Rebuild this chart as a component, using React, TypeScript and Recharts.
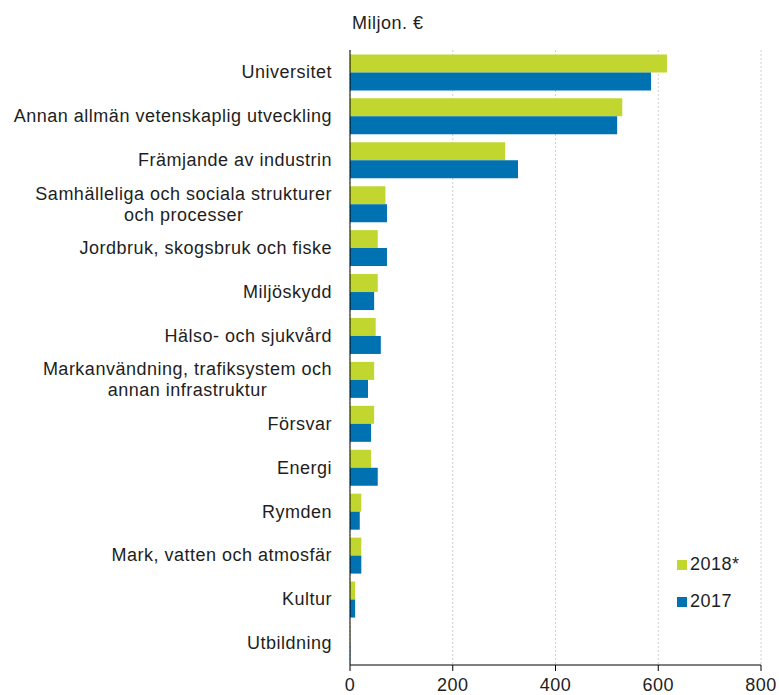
import React from 'react';
import { BarChart, Bar, XAxis, YAxis, CartesianGrid } from 'recharts';

// Values in million euro
const categories = [
  'Universitet',
  'Annan allmän vetenskaplig utveckling',
  'Främjande av industrin',
  'Samhälleliga och sociala strukturer\noch processer',
  'Jordbruk, skogsbruk och fiske',
  'Miljöskydd',
  'Hälso- och sjukvård',
  'Markanvändning, trafiksystem och\nannan infrastruktur',
  'Försvar',
  'Energi',
  'Rymden',
  'Mark, vatten och atmosfär',
  'Kultur',
  'Utbildning',
];
const values2018 = [617, 530, 302, 69, 54, 54, 50, 47, 47, 41, 22, 22, 10, 0.5];
const values2017 = [586, 520, 327, 72, 72, 47, 60, 35, 41, 54, 19, 22, 10, 0.5];
const xTicks = [0, 200, 400, 600, 800];

const GREEN = '#c1d72f';
const BLUE = '#0071b1';
const FONT = '"Liberation Sans", Arial, sans-serif';
const FONT_SIZE = 18;
const SPACING = 0.5;
const TEXT = '#1e1e1e';

const data = categories.map((name, i) => ({
  name,
  y2018: values2018[i],
  y2017: values2017[i],
}));

let ctx: any = null;
function measure(text: string): number {
  if (!ctx) ctx = document.createElement('canvas').getContext('2d');
  if (!ctx) return text.length * FONT_SIZE * 0.5;
  ctx.font = `${FONT_SIZE}px "Liberation Sans", Arial`;
  ctx.letterSpacing = `${SPACING}px`;
  return ctx.measureText(text).width;
}

function CategoryTick(props: any) {
  const { x, y, payload } = props;
  const lines: string[] = String(payload.value).split('\n');
  const right = x - 10;
  const lineH = 21;
  if (lines.length === 1) {
    return (
      <text x={right} y={y} dy="0.35em" textAnchor="end" fill={TEXT} fontSize={FONT_SIZE} fontFamily={FONT} letterSpacing={SPACING}>
        {lines[0]}
      </text>
    );
  }
  const w = Math.max(...lines.map(measure));
  const cx = right - w / 2;
  const startY = y - ((lines.length - 1) * lineH) / 2;
  return (
    <text textAnchor="middle" fill={TEXT} fontSize={FONT_SIZE} fontFamily={FONT} letterSpacing={SPACING}>
      {lines.map((l, i) => (
        <tspan key={i} x={cx} y={startY + i * lineH} dy="0.35em">
          {l}
        </tspan>
      ))}
    </text>
  );
}

function LegendBox() {
  const items = [
    { label: '2018*', color: GREEN },
    { label: '2017', color: BLUE },
  ];
  return (
    <div
      style={{
        position: 'absolute',
        left: 677,
        top: 546,
        fontFamily: FONT,
        fontSize: FONT_SIZE,
        letterSpacing: SPACING,
        color: TEXT,
      }}
    >
      {items.map((it) => (
        <div key={it.label} style={{ display: 'flex', alignItems: 'center', height: 37 }}>
          <span style={{ width: 10, height: 10, background: it.color, display: 'inline-block', marginRight: 3 }} />
          <span>{it.label}</span>
        </div>
      ))}
    </div>
  );
}

export default function App() {
  return (
    <div style={{ position: 'absolute', left: 0, top: 0, width: 779, height: 695, background: '#fff' }}>
      <div
        style={{
          position: 'absolute',
          left: 352,
          top: 13,
          fontFamily: FONT,
          fontSize: FONT_SIZE,
          letterSpacing: SPACING,
          color: TEXT,
        }}
      >
        Miljon. €
      </div>
      <BarChart
        width={779}
        height={695}
        data={data}
        layout="vertical"
        margin={{ top: 50, right: 18, bottom: 0, left: 0 }}
        barCategoryGap="10%"
        barGap={0}
      >
        <CartesianGrid horizontal={false} stroke="#cfcfcf" strokeDasharray="2 2" />
        <XAxis
          type="number"
          domain={[0, 800]}
          ticks={xTicks}
          interval={0}
          height={30}
          stroke="#000"
          tickSize={6}
          tickMargin={7}
          tick={{ fill: TEXT, fontSize: FONT_SIZE, fontFamily: FONT, letterSpacing: SPACING }}
        />
        <YAxis
          type="category"
          dataKey="name"
          width={350}
          stroke="#000"
          tickLine={false}
          interval={0}
          tick={<CategoryTick />}
        />
        <Bar dataKey="y2018" name="2018*" fill={GREEN} isAnimationActive={false} />
        <Bar dataKey="y2017" name="2017" fill={BLUE} isAnimationActive={false} />
      </BarChart>
      <LegendBox />
    </div>
  );
}
